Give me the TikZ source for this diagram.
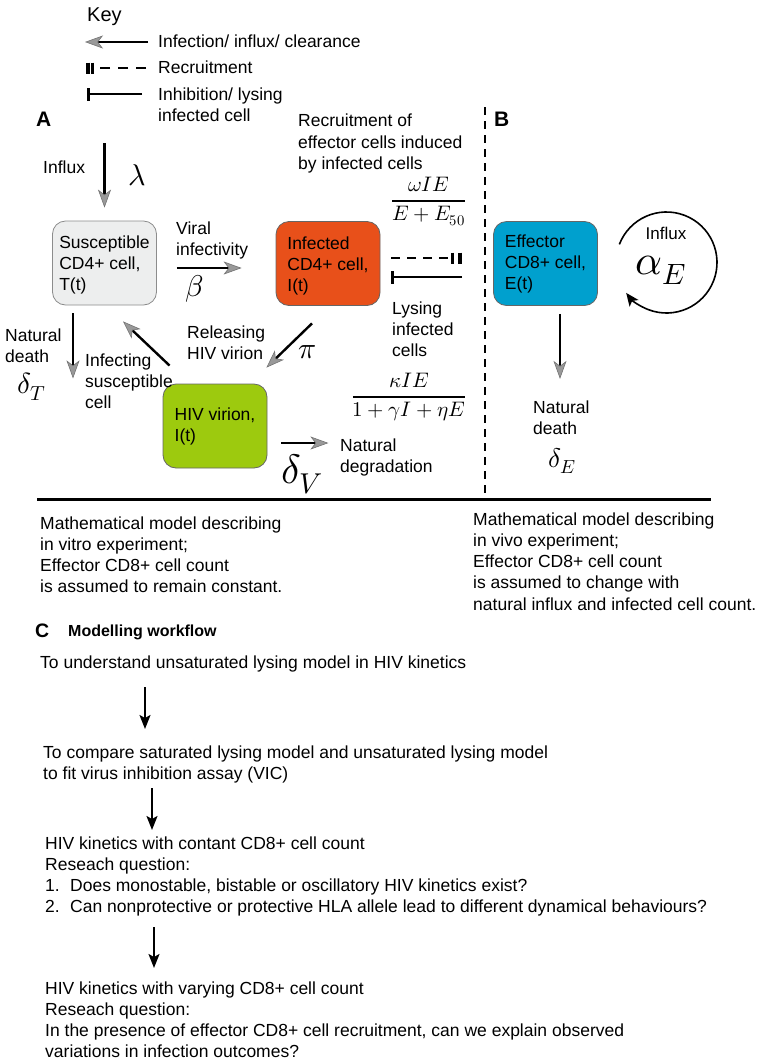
\documentclass[tikz,border=0pt]{standalone}
\usepackage{amsmath}
\usepackage{fontspec}
\usepackage{unicode-math}
\setmainfont{Liberation Sans}
\usetikzlibrary{arrows.meta}
\definecolor{suscol}{HTML}{EDEEEE}
\definecolor{infcol}{HTML}{E8501A}
\definecolor{hivcol}{HTML}{9DCA0E}
\definecolor{effcol}{HTML}{00A0CE}
\newcommand{\tpad}[1]{\rule{0pt}{#1pt}}
\tikzset{
  every node/.style={inner sep=0pt},
  txt/.style={font=\fontsize{17.5}{21.2}\selectfont, align=left, anchor=north west},
  panel/.style={font=\bfseries\fontsize{21}{24}\selectfont, anchor=north west},
  cell/.style={draw=black!60, line width=0.8pt, rounded corners=13pt, minimum width=104pt,
    minimum height=84pt, font=\fontsize{17.5}{21.3}\selectfont, align=left},
  flow/.style={line width=2.4pt, -{Stealth[length=18pt,width=13pt,inset=5pt,fill=black!40,color=black!55,line width=0.6pt]}},
  wflow/.style={line width=2.2pt, -{Stealth[length=14pt,width=11pt,inset=3pt]}},
  rec/.style={line width=2.2pt, dash pattern=on 9pt off 7pt},
  rbar/.style={line width=3.6pt},
  inh/.style={line width=2.2pt, -{Bar[width=13pt,line width=3.2pt]}},
  bigm/.style={font=\fontsize{30}{34}\selectfont},
}
\begin{document}
\begin{tikzpicture}[x=1pt,y=-1pt]
\fill[white] (0,0) rectangle (759,1061);
\useasboundingbox (0,0) rectangle (759,1061);

% ---------- Key ----------
\node[font=\fontsize{20}{24}\selectfont, anchor=north west] (keyt) at (87,8) {Key};
\coordinate (k1s) at (148,42); \coordinate (k1e) at (85,42);
\draw[flow] (k1s) -- (k1e);
\node[txt] (k1t) at (158,34.5) {Infection/ influx/ clearance};
\coordinate (k2s) at (146,68); \coordinate (k2e) at (86,68);
\draw[rec, dash pattern=on 10pt off 8pt] (k2s) -- ([xshift=11pt]k2e);
\draw[rbar] ([shift={(2,-5.5)}]k2e) -- ++(0,11);
\draw[rbar, line width=3pt] ([shift={(6.5,-5.5)}]k2e) -- ++(0,11);
\node[txt] (k2t) at (158,61) {Recruitment};
\coordinate (k3s) at (142,94); \coordinate (k3e) at (87,94);
\draw[inh] (k3s) -- (k3e);
\node[txt] (k3t) at (158,87.5) {Inhibition/ lysing\\infected cell};

% ---------- Panel A ----------
\node[panel] (labA) at (36,112) {A};
\node[txt] (rectxt) at (298,114) {Recruitment of\\effector cells induced\\by infected cells};

\node[cell, fill=suscol, draw=black!45] (sus) at (104.5,263) {\tpad{17}Susceptible\\CD4+ cell,\\T(t)};
\node[cell, fill=infcol] (inf) at (328,263.5) {\tpad{18}Infected\\CD4+ cell,\\I(t)};
\node[cell, fill=hivcol] (hiv) at (215,426) {\tpad{14}HIV virion,\\I(t)};
\node[cell, fill=effcol] (eff) at (545.5,263.5) {\tpad{14}Effector\\CD8+ cell,\\E(t)};

\node[txt] (influx) at (43,161) {Influx};
\coordinate (lamtop) at (104.5,143);
\draw[flow] (lamtop) -- ([yshift=13pt]sus.north);
\node[bigm] (lam) at (137,175) {$\lambda$};

\node[txt] (viral) at (176,221.5) {Viral\\infectivity};
\draw[flow] ([shift={(20,5)}]sus.east) -- ([shift={(-34,4.5)}]inf.west);
\node[bigm] (beta) at (195,289) {$\beta$};

\node[anchor=base, font=\fontsize{21}{24}\selectfont] (fracw) at (428.5,206)
  {$\genfrac{}{}{1.8pt}{0}{\omega IE}{E+E_{50}}$};
\coordinate (recA) at (391,258); \coordinate (recB) at (462,258);
\draw[rec] (recA) -- ([xshift=-13pt]recB);
\draw[rbar, line width=3.2pt] ([shift={(-9.5,-5.5)}]recB) -- ++(0,11);
\draw[rbar, line width=4pt] ([shift={(-2.5,-5.5)}]recB) -- ++(0,11);
\coordinate (inhA) at (462,277); \coordinate (inhB) at (391,277);
\draw[inh] (inhA) -- (inhB);
\node[txt] (lys) at (392,301.5) {Lysing\\infected\\cells};
\node[anchor=base, font=\fontsize{21}{24}\selectfont] (frack) at (409,402)
  {$\genfrac{}{}{1.8pt}{0}{\kappa IE}{1+\gamma I+\eta E}$};

\node[txt] (ndT) at (5,328.5) {Natural\\death};
\node[font=\fontsize{29}{32}\selectfont] (dT) at (32,387) {$\delta_T$};
\draw[flow] ([shift={(-31.5,8)}]sus.south) -- ([shift={(-31.5,73)}]sus.south);

\node[txt] (infg) at (85,353.5) {Infecting\\susceptible\\cell};
\draw[flow] ([shift={(7,-18)}]hiv.north west) -- ([shift={(18.5,16)}]sus.south);

\node[txt] (rel) at (187,325.5) {Releasing\\HIV virion};
\draw[flow] ([shift={(-16,17.5)}]inf.south) -- ([shift={(-1,-16)}]hiv.north east);
\node[bigm] (pi) at (307,352) {$\pi$};

\draw[flow] ([shift={(14,17)}]hiv.east) -- ([shift={(61,17)}]hiv.east);
\node[font=\fontsize{41}{44}\selectfont] (dV) at (302,474) {$\delta_V$};
\node[txt] (ndeg) at (340,438.5) {Natural\\degradation};

% ---------- separators ----------
\coordinate (dvt) at (485,107); \coordinate (dvb) at (485,495);
\draw[line width=2.5pt, dash pattern=on 8pt off 6pt] (dvt) -- (dvb);
\coordinate (hl) at (37,499); \coordinate (hr) at (711,499);
\draw[line width=3pt] (hl) -- (hr);

% ---------- Panel B ----------
\node[panel] (labB) at (494,112) {B};
\coordinate (loopc) at (666.5,262.5);
\draw[line width=1.6pt, -{Stealth[length=13pt,width=11pt,inset=3pt]}]
  (loopc) ++(-159:50.5) arc[start angle=-159, end angle=143, radius=50.5];
\node[font=\fontsize{17}{20}\selectfont] (infE) at (666,233) {Influx};
\node[font=\fontsize{42}{46}\selectfont] (aE) at (661,270) {$\alpha_E$};
\draw[flow] ([shift={(14.5,8)}]eff.south) -- ([shift={(14.5,73)}]eff.south);
\node[txt] (ndE) at (533,400.5) {Natural\\death};
\node[font=\fontsize{27}{30}\selectfont] (dE) at (562,461) {$\delta_E$};

% ---------- model descriptions ----------
\node[txt] (vitro) at (40,516.5) {Mathematical model describing\\in vitro experiment;\\Effector CD8+ cell count\\is assumed to remain constant.};
\node[txt] (vivo) at (473,512.5) {Mathematical model describing\\in vivo experiment;\\Effector CD8+ cell count\\is assumed to change with\\natural influx and infected cell count.};

% ---------- Panel C ----------
\node[font=\bfseries\fontsize{19.5}{22}\selectfont, anchor=north west] (labC) at (35,624) {C};
\node[font=\bfseries\fontsize{16}{18}\selectfont, anchor=west] (wft) at (68,632) {Modelling workflow};
\node[txt] (w1) at (40,655.5) {To understand unsaturated lysing model in HIV kinetics};
\coordinate (a1s) at (145,687); \coordinate (a1e) at (145,729);
\draw[wflow] (a1s) -- (a1e);
\node[txt] (w2) at (43,745.5) {To compare saturated lysing model and unsaturated lysing model\\to fit virus inhibition assay (VIC)};
\coordinate (a2s) at (152,788); \coordinate (a2e) at (152,830);
\draw[wflow] (a2s) -- (a2e);
\node[txt] (w3) at (45,836.5) {HIV kinetics with contant CD8+ cell count\\Reseach question:\\\makebox[25pt][l]{1.}Does monostable, bistable or oscillatory HIV kinetics exist?\\\makebox[25pt][l]{2.}Can nonprotective or protective HLA allele lead to different dynamical behaviours?};
\coordinate (a3s) at (154,927); \coordinate (a3e) at (154,968);
\draw[wflow] (a3s) -- (a3e);
\node[txt] (w4) at (45,981.5) {HIV kinetics with varying CD8+ cell count\\Reseach question:\\In the presence of effector CD8+ cell recruitment, can we explain observed\\variations in infection outcomes?};
\end{tikzpicture}
\end{document}
